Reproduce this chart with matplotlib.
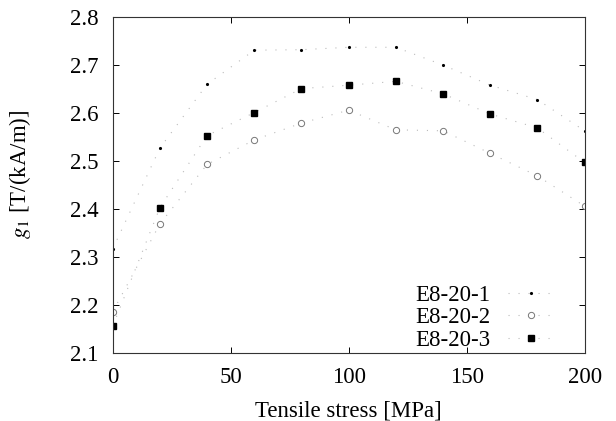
import matplotlib

matplotlib.use("Agg")
import matplotlib.pyplot as plt

# tensile stress [MPa] and g1 [T/(kA/m)] for the three samples
stress = [0, 20, 40, 60, 80, 100, 120, 140, 160, 180, 200]
g1_s1 = [2.317, 2.527, 2.660, 2.731, 2.732, 2.737, 2.737, 2.700, 2.658, 2.628, 2.563]
g1_s2 = [2.186, 2.369, 2.493, 2.544, 2.579, 2.606, 2.565, 2.563, 2.516, 2.469, 2.406]
g1_s3 = [2.156, 2.403, 2.553, 2.601, 2.651, 2.658, 2.666, 2.640, 2.598, 2.569, 2.497]
labels = ["E8-20-1", "E8-20-2", "E8-20-3"]

plt.rcParams["font.family"] = ["Liberation Serif", "DejaVu Serif"]
plt.rcParams["mathtext.fontset"] = "stix"

fig = plt.figure(figsize=(6.16, 4.21), dpi=100)
ax = fig.add_axes([0.183, 0.1615, 0.766, 0.798])

dot = (0, (1, 8))
lc = "#bbbbbb"
ax.plot(stress, g1_s1, ls=dot, color=lc, lw=0.8, marker=".", ms=2.5,
        mfc="black", mec="black", label=labels[0])
ax.plot(stress, g1_s2, ls=dot, color=lc, lw=0.8, marker="o", ms=4.5,
        mfc="white", mec="#777777", mew=0.7, label=labels[1])
ax.plot(stress, g1_s3, ls=dot, color=lc, lw=0.8, marker="s", ms=5,
        mfc="black", mec="black", label=labels[2])

ax.set_xlim(0, 200)
ax.set_ylim(2.1, 2.8)
ax.set_xticks([0, 50, 100, 150, 200])
ax.set_yticks([2.1, 2.2, 2.3, 2.4, 2.5, 2.6, 2.7, 2.8])
ax.tick_params(direction="in", top=True, right=True, labelsize=16.5, length=4, width=0.7, pad=10)
for sp in ax.spines.values():
    sp.set_linewidth(0.8)
    sp.set_color("#333333")

ax.set_xlabel("Tensile stress [MPa]", fontsize=16.5, labelpad=9)
ax.set_ylabel("$g_1$ [T/(kA/m)]", fontsize=16.5)
ax.yaxis.set_label_coords(-0.17, 0.533)

ax.legend(loc="lower right", frameon=False, markerfirst=False, fontsize=16.5,
          handlelength=2.0, labelspacing=0.05, borderaxespad=0.0,
          bbox_to_anchor=(0.955, -0.02))

fig.savefig("out.png", dpi=100)
